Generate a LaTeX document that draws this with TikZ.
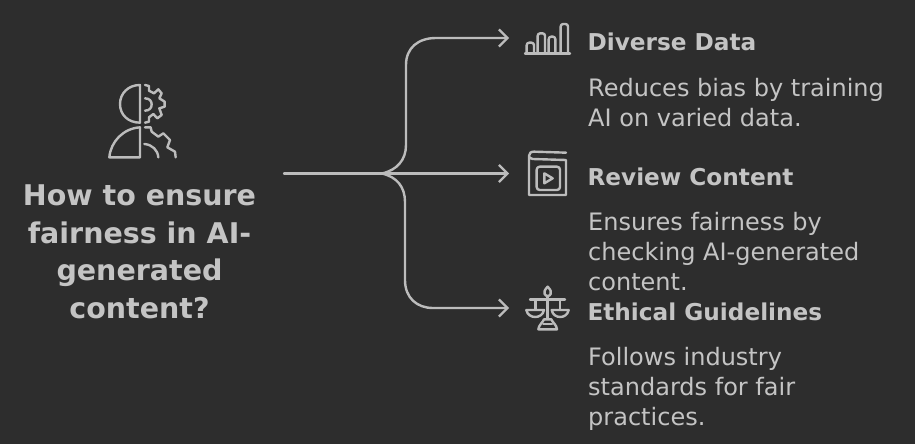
\documentclass[tikz,border=0pt]{standalone}
\usepackage{fontspec}
\setmainfont{DejaVu Sans}
\usetikzlibrary{arrows.meta}
\definecolor{bgdark}{HTML}{2D2D2D}
\definecolor{inkgray}{HTML}{C4C4C4}
\definecolor{linegray}{HTML}{BCBCBC}
\tikzset{
  flowline/.style={line width=2.4pt, draw=linegray, line cap=round, line join=round},
  arrowline/.style={flowline, -{Straight Barb[length=8.5pt,width=17pt,line width=2.2pt]}},
  iconline/.style={line width=2.4pt, draw=linegray, line cap=round, line join=round},
  titletext/.style={text=inkgray, align=center, anchor=center, font=\fontsize{28.5}{37.5}\selectfont\bfseries},
  headtext/.style={text=inkgray, anchor=west, font=\fontsize{23.2}{30}\selectfont\bfseries},
  bodytext/.style={text=inkgray, align=left, anchor=north west, inner sep=0pt, font=\fontsize{24}{30}\selectfont},
}
\begin{document}
\begin{tikzpicture}[x=1pt,y=-1pt]
\fill [bgdark] (0,0) rectangle (915,444);
\useasboundingbox (0,0) rectangle (915,444);
% left question
\node [titletext] (question) at (139.5,252) {How to ensure\\fairness in AI-\\generated\\content?};
% connectors
\coordinate (source) at (284,173.5);
\coordinate (fork) at (382,173.5);
\coordinate (dataend) at (509,38);
\coordinate (reviewend) at (509,173.5);
\coordinate (ethicsend) at (509,308);
\draw [flowline] (source) -- (fork);
\draw [arrowline] (fork) .. controls (397,170) and (406,160) .. (406,145) -- (406,65) .. controls (406,48) and (418,38) .. (436,38) -- (dataend);
\draw [arrowline] (fork) -- (reviewend);
\draw [arrowline] (fork) .. controls (397,177) and (405,187) .. (405,202) -- (405,280) .. controls (405,298) and (417,308) .. (433,308) -- (ethicsend);
% texts
\node [headtext] (datahead) at (584,42) {Diverse Data};
\node [bodytext] (databody) at (588,78) {Reduces bias by training\\AI on varied data.};
\node [headtext] (reviewhead) at (584,177) {Review Content};
\node [bodytext] (reviewbody) at (588,212) {Ensures fairness by\\checking AI-generated\\content.};
\node [headtext] (ethicshead) at (584,312) {Ethical Guidelines};
\node [bodytext] (ethicsbody) at (588,347) {Follows industry\\standards for fair\\practices.};
% person and gears
\begin{scope}[shift={(80,70)},scale=1/3]
\draw [iconline] (180,45) .. controls (145,45) and (120,70) .. (120,102) .. controls (120,135) and (145,158) .. (180,158) -- cycle;
\draw [iconline] (195,45) -- (207,48) -- (207,62) -- (222,70) -- (235,58) -- (245,70) -- (238,85) -- (254,95) -- (254,110) -- (238,115) -- (245,135) -- (232,145) -- (220,132) -- (207,142) -- (207,155) -- (195,158);
\draw [iconline] (195,85) .. controls (208,85) and (215,93) .. (215,103) .. controls (215,114) and (208,122) .. (195,122);
\draw [iconline] (180,172) -- (180,262) -- (88,262) .. controls (92,215) and (130,175) .. (180,172) -- cycle;
\draw [iconline] (195,172) -- (212,172) -- (215,185) -- (235,200) -- (250,190) -- (270,210) -- (262,232) -- (285,245) -- (287,262);
\draw [iconline] (193,222) .. controls (217,224) and (233,240) .. (235,262);
\end{scope}
% bars
\begin{scope}[shift={(510,15)},scale=1/3]
\draw [iconline] (45,115) -- (180,115);
\foreach \xl/\xr/\ytop in {50/72/83,83/105/55,116/136/65,152/174/27} {
  \draw [iconline, rounded corners=2.5pt] (\xl,115) -- (\xl,\ytop) -- (\xr,\ytop) -- (\xr,115);
}
\end{scope}
% book
\begin{scope}[shift={(510,140)},scale=1/3]
\draw [iconline] (168,38) -- (72,35) .. controls (62,35) and (57,40) .. (57,48) -- (57,165) -- (168,165) -- (168,60) -- (68,57) .. controls (60,56) and (57,52) .. (57,48);
\draw [iconline, rounded corners=3pt] (80,80) rectangle (150,150);
\draw [iconline] (103,100) -- (128,115) -- (103,130) -- cycle;
\end{scope}
% scales
\begin{scope}[shift={(510,280)},scale=1/3]
\draw [iconline] (113,20) .. controls (122,30) and (125,35) .. (122,42) .. controls (119,50) and (107,50) .. (104,42) .. controls (101,35) and (104,30) .. (113,20) -- cycle;
\draw [iconline] (113,50) -- (113,115);
\draw [iconline] (60,58) -- (165,58);
\draw [iconline] (76,58) -- (76,88);
\draw [iconline] (150,58) -- (150,88);
\foreach \xl/\xr in {49/102,125/176} {
  \draw [iconline] (\xl,90) -- (\xr,90) .. controls (\xr-5,118) and (\xl+5,118) .. (\xl,90) -- cycle;
}
\draw [iconline] (85,148) -- (141,148) .. controls (140,135) and (128,128) .. (124,118) -- (102,118) .. controls (98,128) and (86,135) .. (85,148) -- cycle;
\draw [iconline] (100,132) -- (126,132);
\end{scope}
\end{tikzpicture}
\end{document}
